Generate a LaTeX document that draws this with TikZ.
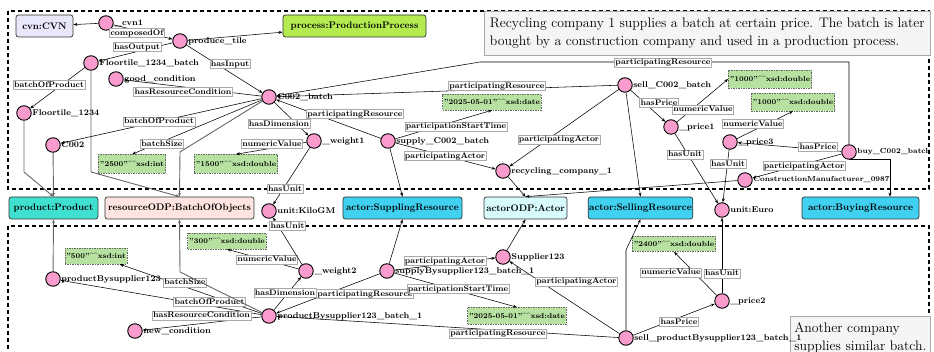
\documentclass[tikz,border=0pt]{standalone}
\usetikzlibrary{arrows.meta}
\definecolor{entpink}{RGB}{250,155,205}
\definecolor{litgreen}{RGB}{183,225,160}
\definecolor{cvnfill}{RGB}{232,232,250}
\definecolor{procfill}{RGB}{180,235,80}
\definecolor{prodfill}{RGB}{64,224,208}
\definecolor{bobjfill}{RGB}{253,228,225}
\definecolor{rolefill}{RGB}{64,208,240}
\definecolor{actfill}{RGB}{215,250,252}
\definecolor{lblgray}{RGB}{170,170,170}
\definecolor{notefill}{RGB}{245,245,245}
\newcommand\myNodeFont{\fontsize{8.4}{10}\selectfont\bfseries}
\newcommand\mySmallNodeFont{\fontsize{7.3}{9}\selectfont\bfseries}
\newcommand\myEdgeFont{\fontsize{8.1}{9}\selectfont\bfseries}
\newcommand\myLitFont{\fontsize{7.3}{8}\selectfont\bfseries}
\newcommand\myClsFont{\fontsize{9.5}{11}\selectfont\bfseries}
\newcommand\dcaret{\textasciicircum\textasciicircum}
\begin{document}
\begin{tikzpicture}[x=1pt,y=-1pt,
  ent/.style={circle, draw=black, line width=0.9pt, fill=entpink, minimum size=14.5pt, inner sep=0pt, label distance=2pt},
  nlbl/.style={font=\myNodeFont, inner sep=0.5pt},
  snlbl/.style={font=\mySmallNodeFont, inner sep=0.5pt},
  cls/.style={draw=black!80, line width=0.7pt, rounded corners=2.5pt, minimum height=22pt, font=\myClsFont, inner sep=1pt},
  lit/.style={draw=black!60, dashed, dash pattern=on 1.5pt off 1pt, line width=0.5pt, fill=litgreen, font=\myLitFont, inner sep=1.5pt, minimum height=16pt},
  elbl/.style={font=\myEdgeFont, fill=white, draw=lblgray, line width=0.4pt, inner xsep=1pt, inner ysep=0.5pt, text height=6pt, text depth=1.8pt},
  rel/.style={draw=black, line width=0.55pt, -{Stealth[length=4pt,width=3pt]}},
  typ/.style={draw=black!60, line width=0.9pt, -{Stealth[length=4pt,width=3pt]}},
  frame/.style={draw=black, line width=1.1pt, dash pattern=on 4pt off 3pt},
  notebox/.style={draw=lblgray, line width=0.6pt, fill=notefill, align=left, inner xsep=3pt, inner ysep=2.5pt, font=\fontsize{13.8}{18}\selectfont}]
\useasboundingbox (0,0) rectangle (934,352);
% frames
\draw[frame] (8,11) rectangle (929,189);
\draw[frame] (8,226) rectangle (929,362);
% notes
\node[notebox, anchor=north west, minimum width=446pt, minimum height=44pt] (note1) at (484,11)
 {Recycling company 1 supplies a batch at certain price. The batch is later\\bought by a construction company and used in a production process.};
\node[notebox, anchor=north west, minimum width=140pt, minimum height=44pt] (note2) at (790,316)
 {Another company\\supplies similar batch.};
% class boxes
\node[cls, fill=cvnfill, minimum width=57pt] (cvn) at (44.5,26) {cvn:CVN};
\node[cls, fill=procfill, minimum width=143pt] (proc) at (354.5,26) {process:ProductionProcess};
\node[cls, fill=prodfill, minimum width=89pt] (product) at (53.5,208) {product:Product};
\node[cls, fill=bobjfill, minimum width=149pt] (bobj) at (179.5,208) {resourceODP:BatchOfObjects};
\node[cls, fill=rolefill, minimum width=119pt] (supl) at (402.5,208) {actor:SupplingResource};
\node[cls, fill=actfill, minimum width=83pt] (actor) at (525.5,208) {actorODP:Actor};
\node[cls, fill=rolefill, minimum width=103pt] (sellr) at (640.5,208) {actor:SellingResource};
\node[cls, fill=rolefill, minimum width=117pt] (buyr) at (860.5,208) {actor:BuyingResource};
% entities (top)
\node[ent, label={[nlbl]right:\_cvn1}] (cvn1) at (106,23) {};
\node[ent, label={[nlbl]right:produce\_tile}] (ptile) at (180,41) {};
\node[ent, label={[nlbl]right:Floortile\_1234\_batch}] (ftb) at (91,63) {};
\node[ent, label={[nlbl]right:good\_condition}] (good) at (116,79) {};
\node[ent, label={[nlbl]right:Floortile\_1234}] (ft) at (24,113) {};
\node[ent, label={[nlbl]right:C002}] (c002) at (53,145) {};
\node[ent, label={[nlbl]right:C002\_batch}] (cb) at (269,97) {};
\node[ent, label={[nlbl]right:\_weight1}] (w1) at (314,141) {};
\node[ent, label={[nlbl]right:supply\_C002\_batch}] (sup1) at (388,141) {};
\node[ent, label={[nlbl]right:recycling\_company\_1}] (rc1) at (503,171) {};
\node[ent, label={[nlbl]right:sell\_C002\_batch}] (sell1) at (625,85) {};
\node[ent, label={[nlbl]right:\_price1}] (p1) at (671,127) {};
\node[ent, label={[nlbl]right:\_price3}] (p3) at (730,142) {};
\node[ent, label={[snlbl]right:buy\_C002\_batch}] (buy) at (849,152) {};
\node[ent, label={[snlbl]right:ConstructionManufacturer\_0987}] (cm) at (745,180) {};
\node[ent, label={[nlbl]right:unit:Euro}] (euro) at (722,210) {};
\node[ent, label={[nlbl]right:unit:KiloGM}] (kg) at (269,211) {};
% entities (bottom)
\node[ent, label={[nlbl]right:productBysupplier123}] (pbs) at (53,279) {};
\node[ent, label={[nlbl]right:\_weight2}] (w2) at (306,271) {};
\node[ent, label={[nlbl]right:productBysupplier123\_batch\_1}] (b1) at (269,316) {};
\node[ent, label={[nlbl]right:new\_condition}] (newc) at (135,331) {};
\node[ent, label={[nlbl]right:supplyBysupplier123\_batch\_1}] (sup2) at (387,271) {};
\node[ent, label={[nlbl]right:Supplier123}] (s123) at (503,257) {};
\node[ent, label={[nlbl]right:sell\_productBysupplier123\_batch\_1}] (sell2) at (626,338) {};
\node[ent, label={[nlbl]right:\_price2}] (p2) at (722,301) {};
% literals
\node[lit, minimum height=19pt] (l2500) at (132,164) {"2500"\dcaret xsd:int};
\node[lit, minimum height=19pt] (l1500) at (236,164) {"1500"\dcaret xsd:double};
\node[lit] (ld1) at (492,102) {"2025-05-01"\dcaret xsd:date};
\node[lit, minimum height=18pt] (l1000a) at (770,79) {"1000"\dcaret xsd:double};
\node[lit, minimum height=18pt] (l1000b) at (793,102) {"1000"\dcaret xsd:double};
\node[lit] (l500) at (96,256) {"500"\dcaret xsd:int};
\node[lit] (l300) at (227,241) {"300"\dcaret xsd:double};
\node[lit, minimum height=17pt] (ld2) at (517,316) {"2025-05-01"\dcaret xsd:date};
\node[lit, minimum height=15pt] (l2400) at (674,244) {"2400"\dcaret xsd:double};
% bend points
\coordinate (bend1) at (480,62);
\coordinate (bendft) at (24,172);
\coordinate (bendftb) at (91,172);
\coordinate (bendcb) at (180,152);
\coordinate (bend2) at (180,272);
\coordinate (bend3) at (626,250);
% edges (top)
\draw[rel] (cvn1) -- (cvn);
\draw[rel] (cvn1) -- (ptile) node[elbl] at (137,33) {composedOf};
\draw[rel] (ptile) -- (proc);
\draw[rel] (ptile) -- (ftb) node[elbl] at (137,47) {hasOutput};
\draw[rel] (ptile) -- (cb) node[elbl] at (230,64) {hasInput};
\draw[rel] (ftb) -- (ft) node[elbl] at (49,85) {batchOfProduct};
\draw[typ] (ft) -- (bendft) -- (product.north);
\draw[typ] (c002) -- (product.north);
\draw[typ] (ftb) -- (bendftb) -- (bobj.north);
\draw[typ] (cb) -- (bendcb) -- (bobj.north);
\draw[rel] (cb) -- (good) node[elbl] at (183,92) {hasResourceCondition};
\draw[rel] (cb) -- (c002) node[elbl] at (159,121.5) {batchOfProduct};
\draw[rel] (cb) -- (l2500.north) node[elbl] at (162,144) {batchSize};
\draw[rel] (cb) -- (w1) node[elbl] at (279,124) {hasDimension};
\draw[rel] (w1) -- (l1500.north) node[elbl] at (272,144) {numericValue};
\draw[rel] (w1) -- (kg) node[elbl] at (285,189) {hasUnit};
\draw[rel] (sup1) -- (cb) node[elbl] at (355,114) {participatingResource};
\draw[rel] (sup1) -- (ld1.south) node[elbl] at (456,126.5) {participationStartTime};
\draw[rel] (sup1) -- (rc1) node[elbl] at (445,156) {participatingActor};
\draw[rel] (sup1) -- (supl.north);
\draw[rel] (rc1) -- (actor.north);
\draw[rel] (sell1) -- (cb) node[elbl] at (497,86) {participatingResource};
\draw[rel] (buy) |- (bend1) -- (cb) node[elbl] at (663,62.5) {participatingResource};
\draw[rel] (sell1) -- (rc1) node[elbl] at (559,139.5) {participatingActor};
\draw[rel] (sell1) -- (p1) node[elbl] at (659,103) {hasPrice};
\draw[rel] (p1) -- (l1000a.west) node[elbl] at (703,109.5) {numericValue};
\draw[rel] (p1) -- (euro) node[elbl] at (685,154.5) {hasUnit};
\draw[rel] (sell1) -- (sellr.north);
\draw[rel] (buy) -- (p3) node[elbl] at (818,147) {hasPrice};
\draw[rel] (p3) -- (l1000b.south) node[elbl] at (753,124) {numericValue};
\draw[rel] (p3) -- (euro) node[elbl] at (728,164) {hasUnit};
\draw[rel] (buy) -- (cm) node[elbl] at (804,166) {participatingActor};
\draw[rel] (buy.south) -| ([xshift=29.5pt]buyr.north);
\draw[rel] (cm) -- (actor.north);
% edges (bottom)
\draw[typ] (pbs) -- (product.south);
\draw[rel] (b1) -- (l500) node[elbl] at (185,282.5) {batchSize};
\draw[rel] (b1) -- (pbs) node[elbl] at (209.5,302) {batchOfProduct};
\draw[typ] (b1) -- (bend2) -- (bobj.south);
\draw[rel] (b1) -- (newc) node[elbl] at (201.5,315.5) {hasResourceCondition};
\draw[rel] (b1) -- (w2) node[elbl] at (285,293) {hasDimension};
\draw[rel] (w2) -- (l300.south) node[elbl] at (267,259.5) {numericValue};
\draw[rel] (w2) -- (kg) node[elbl] at (287.5,226) {hasUnit};
\draw[rel] (sup2) -- (b1) node[elbl] at (365,294) {participatingResource};
\draw[rel] (sup2) -- (supl.south);
\draw[rel] (sup2) -- (s123) node[elbl] at (445,261) {participatingActor};
\draw[rel] (sup2) -- (ld2.north) node[elbl] at (458,289) {participationStartTime};
\draw[rel] (s123) -- (actor.south);
\draw[rel] (sell2) -- (s123) node[elbl] at (576.5,281.5) {participatingActor};
\draw[rel] (sell2) -- (b1) node[elbl] at (498,333.5) {participatingResource};
\draw[rel] (sell2) -- (p2) node[elbl] at (679,322) {hasPrice};
\draw[rel] (p2) -- (l2400.south) node[elbl] at (671,272.5) {numericValue};
\draw[rel] (p2) -- (euro) node[elbl] at (722,273.5) {hasUnit};
\draw[rel] (sell2) -- (bend3) -- (sellr.south);
\end{tikzpicture}
\end{document}
